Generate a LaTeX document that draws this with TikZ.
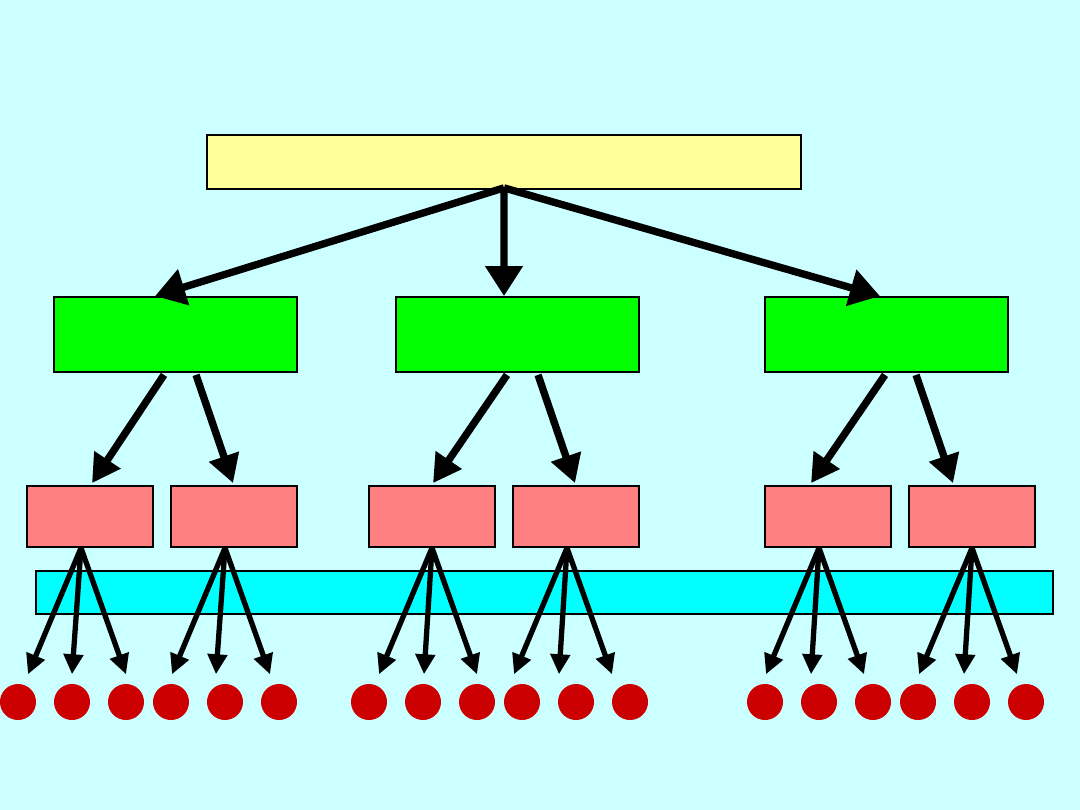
\documentclass[tikz,border=0pt]{standalone}
\usepackage{tikz}
\usetikzlibrary{arrows.meta}
\definecolor{treebg}    {RGB}{204,255,255}
\definecolor{treeyellow}{RGB}{255,255,153}
\definecolor{treegreen} {RGB}{0,255,0}
\definecolor{treepink}  {RGB}{255,128,128}
\definecolor{treecyan}  {RGB}{0,255,255}
\definecolor{treered}   {RGB}{204,0,0}

\begin{document}
\begin{tikzpicture}[
  x=0.01cm,y=-0.01cm,
  root/.style={draw=black,line width=0.5pt,fill=treeyellow,
               minimum width=5.94cm,minimum height=0.54cm,inner sep=0pt},
  branch/.style={draw=black,line width=0.5pt,fill=treegreen,
                 minimum width=2.43cm,minimum height=0.75cm,inner sep=0pt},
  twig/.style={draw=black,line width=0.5pt,fill=treepink,
               minimum width=1.26cm,minimum height=0.61cm,inner sep=0pt},
  band/.style={draw=black,line width=0.5pt,fill=treecyan,
               minimum width=10.17cm,minimum height=0.43cm,inner sep=0pt},
  leaf/.style={circle,fill=treered,minimum size=0.36cm,inner sep=0pt},
  bigarr/.style={-{Triangle[length=0.3cm,width=0.36cm]},line width=2.1pt},
  midarr/.style={-{Triangle[length=0.28cm,width=0.3cm]},line width=2.1pt},
  smallarr/.style={-{Triangle[length=0.2cm,width=0.19cm]},line width=1.5pt},
]

%% -- background ---------------------------------------------------------------
\fill[treebg] (0,0) rectangle (1080,810);
\useasboundingbox (0,0) rectangle (1080,810);

%% -- root and branches --------------------------------------------------------
\node[root] (top) at (504,162) {};

\node[branch] (G1) at (175.5,334.5) {};
\node[branch] (G2) at (517.5,334.5) {};
\node[branch] (G3) at (886.5,334.5) {};

%% -- twigs --------------------------------------------------------------------
\node[twig] (P1) at (90,516.5)  {};
\node[twig] (P2) at (234,516.5) {};
\node[twig] (P3) at (432,516.5) {};
\node[twig] (P4) at (576,516.5) {};
\node[twig] (P5) at (828,516.5) {};
\node[twig] (P6) at (972,516.5) {};

%% -- cyan band ----------------------------------------------------------------
\node[band] (bar) at (544.5,592.5) {};

%% -- leaves -------------------------------------------------------------------
\node[leaf] (L1)  at (18,702)   {};
\node[leaf] (L2)  at (72,702)   {};
\node[leaf] (L3)  at (126,702)  {};
\node[leaf] (L4)  at (171,702)  {};
\node[leaf] (L5)  at (225,702)  {};
\node[leaf] (L6)  at (279,702)  {};
\node[leaf] (L7)  at (369,702)  {};
\node[leaf] (L8)  at (423,702)  {};
\node[leaf] (L9)  at (477,702)  {};
\node[leaf] (L10) at (522,702)  {};
\node[leaf] (L11) at (576,702)  {};
\node[leaf] (L12) at (630,702)  {};
\node[leaf] (L13) at (765,702)  {};
\node[leaf] (L14) at (819,702)  {};
\node[leaf] (L15) at (873,702)  {};
\node[leaf] (L16) at (918,702)  {};
\node[leaf] (L17) at (972,702)  {};
\node[leaf] (L18) at (1026,702) {};

%% -- root to branches ---------------------------------------------------------
\draw[bigarr] ([yshift=0.02cm]top.south) -- ([xshift=-0.205cm]G1.north);
\draw[bigarr] ([yshift=0.02cm]top.south) -- ([xshift=-0.135cm]G2.north);
\draw[bigarr] ([yshift=0.02cm]top.south) -- ([xshift=-0.065cm]G3.north);

%% -- branches to twigs --------------------------------------------------------
\draw[midarr] ([xshift=-0.115cm,yshift=-0.02cm]G1.south) -- ([xshift=0.02cm,yshift=0.02cm]P1.north);
\draw[midarr] ([xshift=0.205cm,yshift=-0.02cm]G1.south)  -- ([xshift=-0.01cm,yshift=0.02cm]P2.north);
\draw[midarr] ([xshift=-0.105cm,yshift=-0.02cm]G2.south) -- ([xshift=0.01cm,yshift=0.02cm]P3.north);
\draw[midarr] ([xshift=0.205cm,yshift=-0.02cm]G2.south)  -- ([xshift=-0.01cm,yshift=0.02cm]P4.north);
\draw[midarr] ([xshift=-0.015cm,yshift=-0.02cm]G3.south) -- ([xshift=-0.17cm,yshift=0.02cm]P5.north);
\draw[midarr] ([xshift=0.295cm,yshift=-0.02cm]G3.south)  -- ([xshift=-0.19cm,yshift=0.02cm]P6.north);

%% -- twigs to leaves ----------------------------------------------------------
\draw[smallarr] ([xshift=-0.09cm]P1.south) -- ([xshift=0.1cm,yshift=0.09cm]L1.north);
\draw[smallarr] ([xshift=-0.09cm]P1.south) -- ([yshift=0.09cm]L2.north);
\draw[smallarr] ([xshift=-0.09cm]P1.south) -- ([yshift=0.09cm]L3.north);
\draw[smallarr] ([xshift=-0.09cm]P2.south) -- ([xshift=0.01cm,yshift=0.09cm]L4.north);
\draw[smallarr] ([xshift=-0.09cm]P2.south) -- ([xshift=-0.09cm,yshift=0.09cm]L5.north);
\draw[smallarr] ([xshift=-0.09cm]P2.south) -- ([xshift=-0.09cm,yshift=0.09cm]L6.north);
\draw[smallarr] (P3.south) -- ([xshift=0.1cm,yshift=0.09cm]L7.north);
\draw[smallarr] (P3.south) -- ([xshift=0.01cm,yshift=0.09cm]L8.north);
\draw[smallarr] (P3.south) -- ([yshift=0.09cm]L9.north);
\draw[smallarr] ([xshift=-0.09cm]P4.south) -- ([xshift=-0.08cm,yshift=0.09cm]L10.north);
\draw[smallarr] ([xshift=-0.09cm]P4.south) -- ([xshift=-0.17cm,yshift=0.09cm]L11.north);
\draw[smallarr] ([xshift=-0.09cm]P4.south) -- ([xshift=-0.18cm,yshift=0.09cm]L12.north);
\draw[smallarr] ([xshift=-0.09cm]P5.south) -- ([xshift=0.01cm,yshift=0.09cm]L13.north);
\draw[smallarr] ([xshift=-0.09cm]P5.south) -- ([xshift=-0.08cm,yshift=0.09cm]L14.north);
\draw[smallarr] ([xshift=-0.09cm]P5.south) -- ([xshift=-0.09cm,yshift=0.09cm]L15.north);
\draw[smallarr] (P6.south) -- ([xshift=0.01cm,yshift=0.09cm]L16.north);
\draw[smallarr] (P6.south) -- ([xshift=-0.08cm,yshift=0.09cm]L17.north);
\draw[smallarr] (P6.south) -- ([xshift=-0.09cm,yshift=0.09cm]L18.north);

\end{tikzpicture}
\end{document}
